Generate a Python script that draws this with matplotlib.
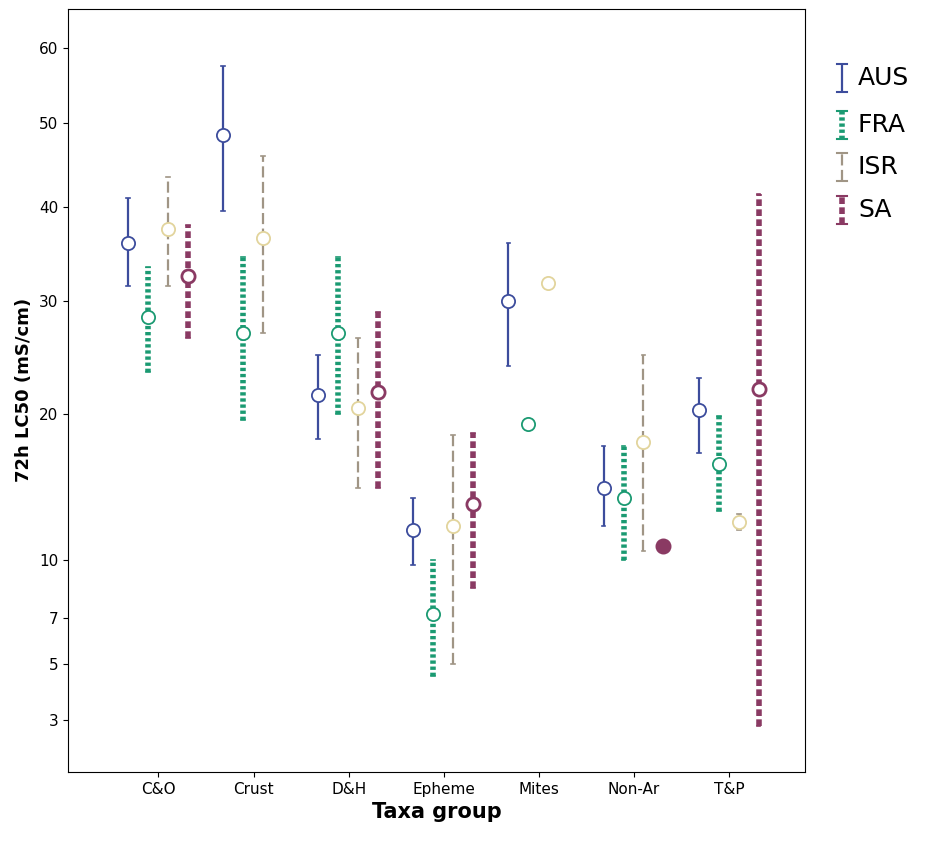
import numpy as np
import matplotlib.pyplot as plt
from matplotlib.lines import Line2D

groups = ["C&O", "Crust", "D&H", "Epheme", "Mites", "Non-Ar", "T&P"]
countries = ["AUS", "FRA", "ISR", "SA"]
# mean, low, high per group (None = no data)
AUS = [(36, 31.5, 41), (48.5, 39.5, 57.5), (21.5, 18, 25), (11.8, 9.7, 13.8),
       (30, 24, 36), (14.5, 12, 17.5), (20.3, 17, 23)]
FRA = [(28.5, 23.5, 33.5), (27, 19.5, 34.5), (27, 20, 34.5), (7.2, 4.5, 10),
       (19.2, None, None), (13.8, 10, 17.5), (16.2, 13, 19.8)]
ISR = [(37.5, 31.5, 43.5), (36.5, 27, 46), (20.5, 14.5, 26.5), (12, 5, 18.3),
       (31.8, None, None), (17.8, 10.5, 25), (12.3, 11.8, 12.8)]
SA = [(32.5, 26.5, 38), None, (21.8, 14.5, 29), (13.4, 8.5, 18.5),
      None, (10.8, None, None), (22, 2.8, 41.5)]
data = [AUS, FRA, ISR, SA]
yticks = [3, 5, 7, 10, 20, 30, 40, 50, 60]

offsets = [-0.32, -0.11, 0.1, 0.31]
colors = ["#3c4c9c", "#1b9a72", "#a09585", "#8a3a63"]
mcolors = ["#3c4c9c", "#1b9a72", "#e2d49c", "#8a3a63"]
styles = [dict(lw=1.6, ls="-"), dict(lw=4, ls=(0, (0.6, 0.5))),
          dict(lw=1.6, ls=(0, (5, 2))), dict(lw=4, ls=(0, (1.2, 0.6)))]

fig = plt.figure(figsize=(9.33, 8.55), dpi=100)
ax = fig.add_axes([0.073, 0.097, 0.79, 0.893])
ax.set_yscale("function", functions=(lambda v: np.sqrt(np.clip(v, 0, None)), lambda v: v**2))

for ci, series in enumerate(data):
    for gi, item in enumerate(series):
        if item is None:
            continue
        m, lo, hi = item
        x = gi + offsets[ci]
        if lo is not None:
            ax.plot([x, x], [lo, hi], color=colors[ci], solid_capstyle="butt",
                    dash_capstyle="butt", **styles[ci])
            ax.plot([x - 0.02, x + 0.02], [lo, lo], color=colors[ci], lw=1.2)
            ax.plot([x - 0.02, x + 0.02], [hi, hi], color=colors[ci], lw=1.2)
        fc = mcolors[ci] if (ci == 3 and lo is None) else "white"
        ax.plot(x, m, "o", ms=9.5, mfc=fc, mec=mcolors[ci], mew=1.3 if ci != 3 else 2.0)

ax.set_xlim(-0.95, 6.8)
ax.set_ylim(1.6, 65.6)
ax.set_xticks(range(len(groups)))
ax.set_xticklabels(groups)
ax.set_yticks(yticks)
ax.set_yticklabels([str(t) for t in yticks])
ax.minorticks_off()
ax.tick_params(labelsize=11)
ax.set_xlabel("Taxa group", fontsize=15, fontweight="bold")
ax.set_ylabel("72h LC50 (mS/cm)", fontsize=13, fontweight="bold")

# legend drawn by hand: vertical bar samples with caps
leg_y = [78, 125, 167, 210]
for i, name in enumerate(countries):
    yc = 1 - leg_y[i] / 855
    y0, y1 = yc - 14 / 855, yc + 14 / 855
    xh = 842 / 933
    fig.add_artist(Line2D([xh, xh], [y0, y1], color=colors[i], solid_capstyle="butt",
                          dash_capstyle="butt", **styles[i]))
    for yy in (y0, y1):
        fig.add_artist(Line2D([xh - 5 / 933, xh + 5 / 933], [yy, yy], color=colors[i], lw=1.5))
    fig.text(858 / 933, yc, name, fontsize=18, va="center", ha="left")

fig.savefig("out.png", dpi=100)
